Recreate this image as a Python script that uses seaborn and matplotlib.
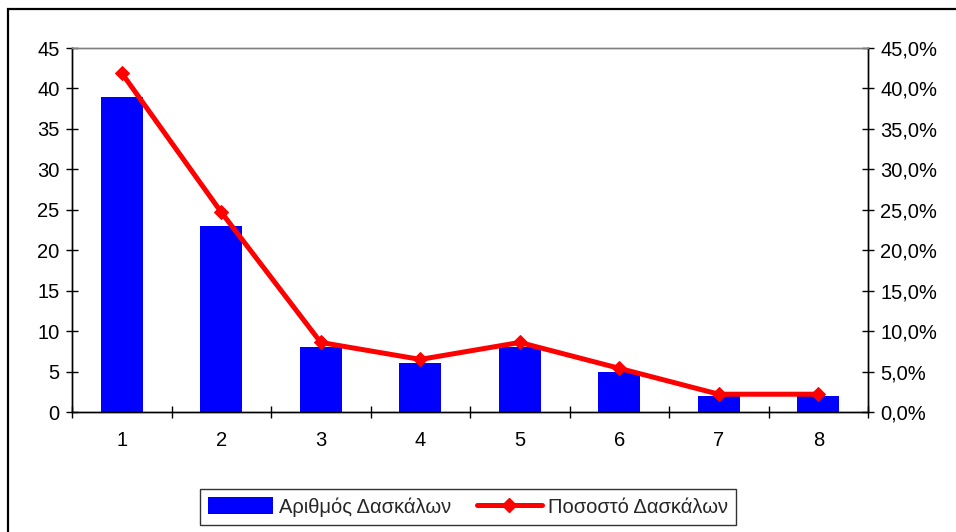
import numpy as np
import pandas as pd
import matplotlib
matplotlib.use("Agg")
import matplotlib.pyplot as plt
import matplotlib.patches as mpatches
from matplotlib.lines import Line2D
from matplotlib.ticker import FuncFormatter, FixedLocator
import seaborn as sns

categories = ["1", "2", "3", "4", "5", "6", "7", "8"]
teachers = [39, 23, 8, 6, 8, 5, 2, 2]
percent = [41.9, 24.7, 8.6, 6.5, 8.6, 5.4, 2.2, 2.2]
bar_label = "Αριθμός Δασκάλων"
line_label = "Ποσοστό Δασκάλων"

sns.set_theme(style="white")
plt.rcParams["font.family"] = ["Liberation Sans", "DejaVu Sans"]

df = pd.DataFrame({"cat": categories, "n": teachers, "pct": percent})

FS = 14.5
fig = plt.figure(figsize=(9.56, 5.32), dpi=100)
fig.patch.set_facecolor("white")
ax = fig.add_axes([72/956, 1-412/532, (868-72)/956, (412-48)/532])

sns.barplot(data=df, x="cat", y="n", color="#0000FF", saturation=1, width=0.42,
            ax=ax, edgecolor="none")
ax.set_xlim(-0.5, 7.5)
ax.set_ylim(0, 45)
ax.set_yticks(np.arange(0, 46, 5))
ax.set_xlabel("")
ax.set_ylabel("")

ax2 = ax.twinx()
sns.lineplot(x=np.arange(len(categories)), y=df["pct"], ax=ax2, color="#FF0000",
             linewidth=3.6, marker="D", markersize=7.5, markeredgecolor="#FF0000")
ax2.set_ylim(0, 45)
ax2.set_yticks(np.arange(0, 46, 5))
ax2.yaxis.set_major_formatter(FuncFormatter(lambda v, p: f"{v:.1f}".replace(".", ",") + "%"))
ax2.set_ylabel("")
ax2.set_xlim(-0.5, 7.5)

for a in (ax, ax2):
    for s in a.spines.values():
        s.set_linewidth(1.0)
        s.set_color("black")
    a.spines["top"].set_color("#808080")
    a.set_facecolor("none")

ax.tick_params(axis="y", which="major", direction="inout", length=8, width=1,
               color="black", pad=5, labelsize=FS, labelcolor="black", left=True)
ax2.tick_params(axis="y", which="major", direction="inout", length=8, width=1,
                color="black", pad=5, labelsize=FS, labelcolor="black", right=True)
ax.tick_params(axis="x", which="major", length=0, pad=14, labelsize=FS, labelcolor="black")
ax.xaxis.set_minor_locator(FixedLocator(np.arange(-0.5, 8, 1.0)))
ax.tick_params(axis="x", which="minor", direction="inout", length=8, width=1,
               color="black", bottom=True)

handles = [mpatches.Patch(facecolor="#0000FF", edgecolor="none", label=bar_label),
           Line2D([0], [0], color="#FF0000", linewidth=3.6, marker="D", markersize=7.5,
                  label=line_label)]
leg = fig.legend(handles=handles, loc="center", bbox_to_anchor=(468/956, 1-507/532),
                 ncol=2, frameon=True, fancybox=False, fontsize=FS,
                 handlelength=3.2, handleheight=0.9, handletextpad=0.3,
                 columnspacing=1.3, borderpad=0.4, edgecolor="black")
leg.get_frame().set_linewidth(1.0)

frame = mpatches.Rectangle((8/956, -0.2), 1.2, 1.2 - 9/532, transform=fig.transFigure,
                           fill=False, edgecolor="black", linewidth=1.6)
fig.patches.append(frame)

fig.savefig("out.png", dpi=100, facecolor="white")
